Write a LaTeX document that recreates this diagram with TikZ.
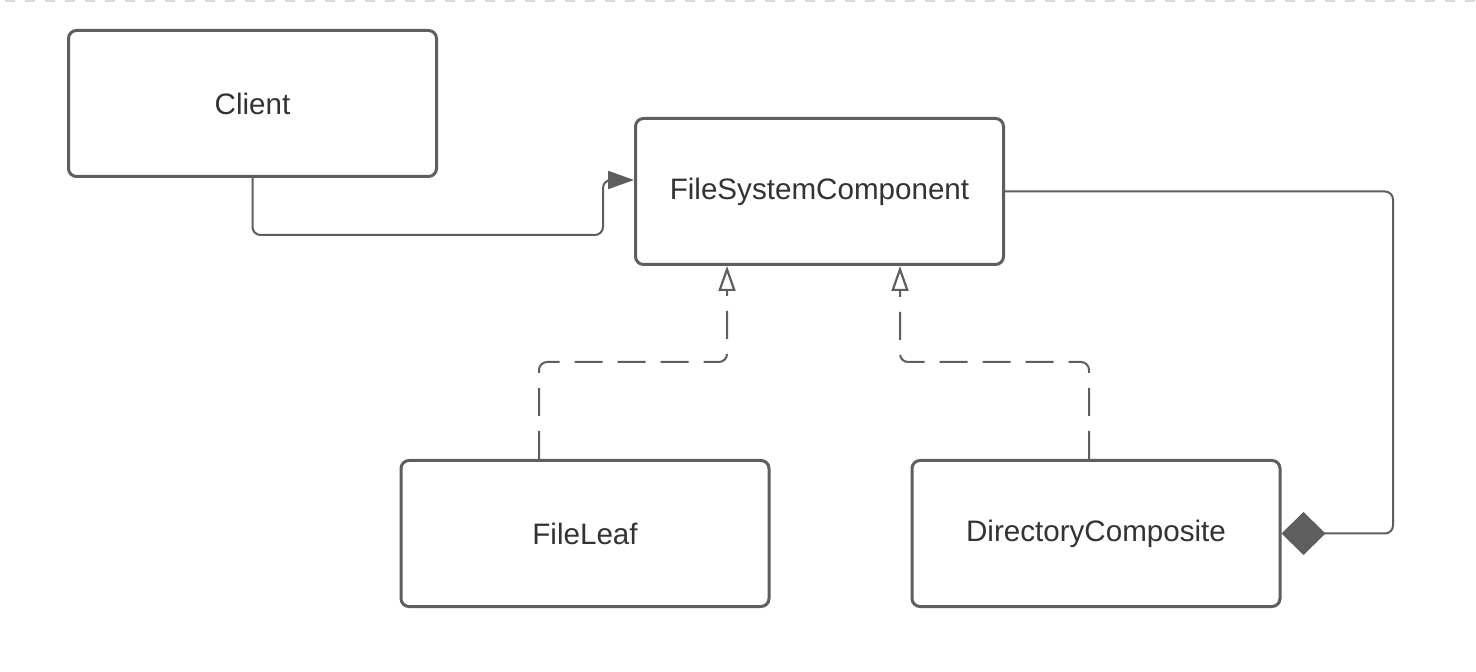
\documentclass[tikz,border=0pt]{standalone}
\usepackage{fontspec}
\setmainfont{Liberation Sans}
\usetikzlibrary{arrows.meta,calc}
\definecolor{ln}{HTML}{5E5E5E}
\definecolor{tx}{HTML}{333333}
\definecolor{topdash}{HTML}{DADADA}
\begin{document}
\begin{tikzpicture}[x=0.5pt,y=-0.5pt,
  cls/.style={draw=ln,line width=1.5pt,rounded corners=4pt,fill=white,
    minimum width=184pt,minimum height=73pt,inner sep=0pt,
    font=\fontsize{14.8pt}{17pt}\selectfont,text=tx},
  conn/.style={draw=ln,line width=1pt,rounded corners=4pt},
  real/.style={conn,dash pattern=on 14pt off 7.5pt,
    -{Triangle[open,length=12.5pt,width=8.5pt,line width=1.1pt]}},
  assoc/.style={conn,-{Triangle[length=13pt,width=9pt]}},
  comp/.style={conn,-{Diamond[length=22pt,width=21.5pt]}}
]
\useasboundingbox (0,0) rectangle (1476,672);
\draw[topdash,line width=1.2pt,dash pattern=on 5pt off 5pt] (5,1) -- (1476,1);

\node[cls] (Client) at (252.5,103.5) {Client};
\node[cls] (FSC) at (819.5,191.5) {FileSystemComponent};
\node[cls] (Leaf) at (585,533.5) {FileLeaf};
\node[cls] (Dir) at (1096,533.5) {DirectoryComposite};

\draw[assoc] (Client.south) -- (252.5,235) -- (603,235) -- (603,180) -- ($(FSC.west)+(0,-11.5)$);
\draw[real] ($(Leaf.north)+(-46,0)$) -- (539,362) -- (727,362) -- ($(FSC.south)+(-92.5,0)$);
\draw[real] ($(Dir.north)+(-7,0)$) -- (1089,362) -- (900,362) -- ($(FSC.south)+(80.5,0)$);
\draw[comp] (FSC.east) -- (1393,191.5) -- (1393,533.5) -- (Dir.east);
\end{tikzpicture}
\end{document}
